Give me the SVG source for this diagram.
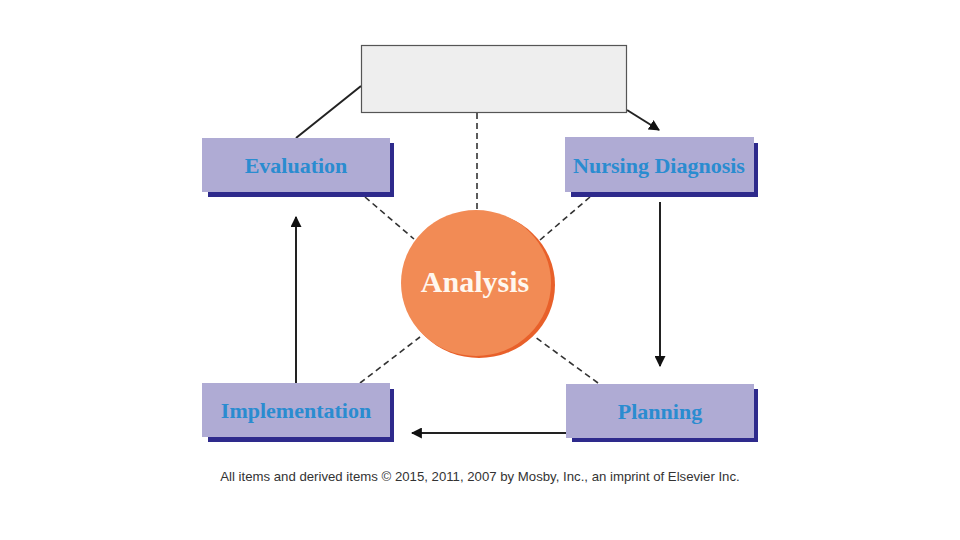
<svg xmlns="http://www.w3.org/2000/svg" width="960" height="540" viewBox="0 0 960 540">
<defs>
<style>
.box{fill:#afabd4}
.shadow{fill:#2e2a8c}
.lbl{font-family:"Liberation Serif","DejaVu Serif",serif;font-weight:bold;font-size:22px;fill:#2a8cd0;text-anchor:middle}
.solid{stroke:#222;stroke-width:2;fill:none}
.dash{stroke:#333;stroke-width:1.6;fill:none;stroke-dasharray:6 4}
</style>
<marker id="ah" viewBox="0 0 10 10" refX="9" refY="5" markerWidth="11" markerHeight="11" markerUnits="userSpaceOnUse" orient="auto">
<path d="M0,0 L10,5 L0,10 z" fill="#111"/>
</marker>
</defs>
<rect width="960" height="540" fill="#fff"/>
<g id="connectors">
<line class="solid" x1="296" y1="138" x2="361" y2="86"/>
<line class="solid" x1="627" y1="110" x2="659" y2="130" marker-end="url(#ah)"/>
<line class="solid" x1="660" y1="202" x2="660" y2="366" marker-end="url(#ah)"/>
<line class="solid" x1="566" y1="433" x2="412" y2="433" marker-end="url(#ah)"/>
<line class="solid" x1="296" y1="383" x2="296" y2="217" marker-end="url(#ah)"/>
<line class="dash" x1="477" y1="113" x2="477" y2="210"/>
<line class="dash" x1="365" y1="197" x2="414" y2="239"/>
<line class="dash" x1="590" y1="197" x2="540" y2="240"/>
<line class="dash" x1="360" y1="383" x2="420" y2="337"/>
<line class="dash" x1="598" y1="383" x2="535" y2="337"/>
</g>
<g id="top-box">
<rect x="361.5" y="45.5" width="265" height="67" fill="#eeeeee" stroke="#555" stroke-width="1.2"/>
</g>
<g id="evaluation">
<rect class="shadow" x="208" y="143" width="186" height="54"/>
<rect class="box" x="202" y="138" width="188" height="54"/>
<text class="lbl" x="296" y="173">Evaluation</text>
</g>
<g id="nursing-diagnosis">
<rect class="shadow" x="571" y="143" width="187" height="54"/>
<rect class="box" x="565" y="137" width="189" height="55"/>
<text class="lbl" x="659" y="173">Nursing Diagnosis</text>
</g>
<g id="implementation">
<rect class="shadow" x="208" y="389" width="186" height="53"/>
<rect class="box" x="202" y="383" width="188" height="54"/>
<text class="lbl" x="296" y="418">Implementation</text>
</g>
<g id="planning">
<rect class="shadow" x="572" y="389" width="186" height="53"/>
<rect class="box" x="566" y="384" width="188" height="54"/>
<text class="lbl" x="660" y="419">Planning</text>
</g>
<g id="analysis">
<ellipse cx="479" cy="285" rx="76" ry="73" fill="#e8602a"/>
<ellipse cx="476" cy="283" rx="75" ry="73" fill="#f28b55"/>
<text x="475" y="292" font-family="Liberation Serif,DejaVu Serif,serif" font-weight="bold" font-size="30" fill="#fff7ee" text-anchor="middle">Analysis</text>
</g>
<text x="480" y="481" font-family="Liberation Sans,Arial,sans-serif" font-size="13.2" fill="#333" text-anchor="middle">All items and derived items © 2015, 2011, 2007 by Mosby, Inc., an imprint of Elsevier Inc.</text>
</svg>
